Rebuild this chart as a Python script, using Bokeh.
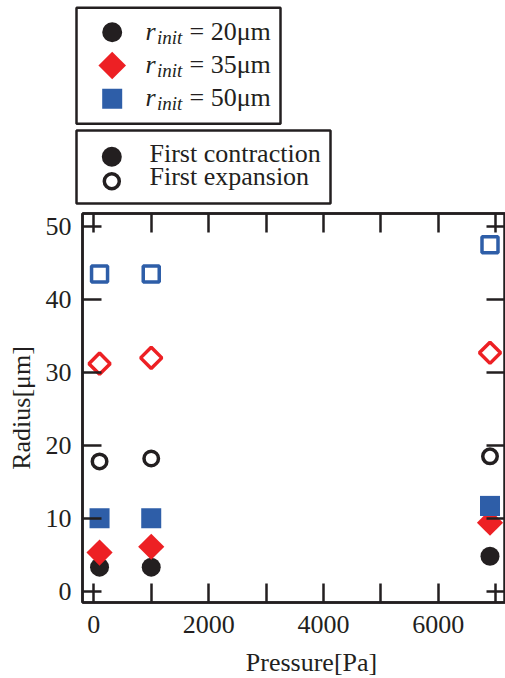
import math
from bokeh.plotting import figure
from bokeh.models import Range1d, FixedTicker, LinearAxis
from bokeh.layouts import column
from bokeh.core.properties import value
from bokeh.embed import file_html
from bokeh.resources import INLINE

# ---------------- data ----------------
pressure = [100, 1000, 6900]
r20_contraction = [3.3, 3.3, 4.8]
r20_expansion = [17.8, 18.2, 18.5]
r35_contraction = [5.3, 6.1, 9.4]
r35_expansion = [31.2, 32.0, 32.7]
r50_contraction = [10.0, 10.0, 11.7]
r50_expansion = [43.5, 43.5, 47.5]

x_major_ticks = [0, 2000, 4000, 6000]
x_minor_ticks = [1000, 3000, 5000, 7000]
y_ticks = [0, 10, 20, 30, 40, 50]

size_values = ["20", "35", "50"]
phase_labels = ["First contraction", "First expansion"]
x_title = "Pressure[Pa]"
y_title = "Radius[μm]"

BLACK = "#231f20"
RED = "#ed2024"
BLUE = "#2e5ea8"
FONT = "Liberation Serif"
FS = "26px"
W = 505
BL = -8.5  # baseline correction for text glyphs

# ---------------- main plot ----------------
p = figure(width=W, height=440, x_range=Range1d(-197, 7170), y_range=Range1d(-1.55, 51.8),
           output_backend="svg", toolbar_location=None,
           min_border_left=82, min_border_right=0, min_border_top=5, min_border_bottom=46,
           x_axis_type=None, y_axis_type=None)
p.frame_align = False
p.background_fill_color = "white"
p.border_fill_color = "white"
p.outline_line_color = BLACK
p.outline_line_width = 2.5


def style_axis(ax, labels=True):
    ax.axis_line_color = BLACK
    ax.axis_line_width = 2.5
    for pre in ("major", "minor"):
        setattr(ax, pre + "_tick_line_color", BLACK)
        setattr(ax, pre + "_tick_line_width", 2.5)
        setattr(ax, pre + "_tick_in", 19)
        setattr(ax, pre + "_tick_out", 0)
    if labels:
        ax.major_label_text_font = FONT
        ax.major_label_text_font_size = FS
        ax.major_label_text_color = BLACK
    else:
        ax.major_label_text_font_size = "1px"
        ax.major_label_text_color = None
        ax.major_label_standoff = 0


x_ticker = FixedTicker(ticks=x_major_ticks, minor_ticks=x_minor_ticks)
y_ticker = FixedTicker(ticks=y_ticks)

xb = LinearAxis(ticker=x_ticker)
style_axis(xb)
xb.major_label_standoff = 13
p.add_layout(xb, "below")

yl = LinearAxis(ticker=y_ticker, axis_label=y_title)
style_axis(yl)
yl.major_label_standoff = 11
yl.axis_label_text_font = FONT
yl.axis_label_text_font_size = FS
yl.axis_label_text_font_style = "normal"
yl.axis_label_text_color = BLACK
yl.axis_label_standoff = 7
p.add_layout(yl, "left")

xt = LinearAxis(ticker=x_ticker)
style_axis(xt, labels=False)
p.add_layout(xt, "above")

yr = LinearAxis(ticker=y_ticker)
style_axis(yr, labels=False)
p.add_layout(yr, "right")

p.xgrid.ticker = x_ticker
p.ygrid.ticker = y_ticker
for g in (p.xgrid, p.ygrid):
    g.grid_line_color = "#444444"
    g.grid_line_width = 1
    g.grid_line_dash = "2 3"
p.xgrid.minor_grid_line_color = "#444444"
p.xgrid.minor_grid_line_width = 1
p.xgrid.minor_grid_line_dash = "2 3"

# contraction (filled)
p.scatter(pressure, r20_contraction, marker="circle", size=19, fill_color=BLACK, line_color=None)
p.scatter(pressure, r35_contraction, marker="square", angle=math.pi / 4, size=18.5, fill_color=RED, line_color=None)
p.scatter(pressure, r50_contraction, marker="square", size=20, fill_color=BLUE, line_color=None)
# expansion (open)
p.scatter(pressure, r20_expansion, marker="circle", size=14.5, fill_color="white", line_color=BLACK, line_width=3.5)
p.scatter(pressure, r35_expansion, marker="square", angle=math.pi / 4, size=15, fill_color="white", line_color=RED, line_width=3.5)
p.scatter(pressure, r50_expansion, marker="square", size=16, fill_color="white", line_color=BLUE, line_width=3.5)


def blank_fig(h):
    f = figure(width=W, height=h, x_range=Range1d(0, W), y_range=Range1d(h, 0),
               output_backend="svg", toolbar_location=None,
               min_border=0, x_axis_type=None, y_axis_type=None)
    f.frame_align = False
    f.outline_line_color = None
    f.xgrid.visible = False
    f.ygrid.visible = False
    f.background_fill_color = "white"
    f.border_fill_color = "white"
    return f


# ---------------- legends ----------------
leg = blank_fig(208)
leg.quad(left=[76, 76], right=[280, 330], top=[7.3, 130], bottom=[123.3, 203],
         fill_color=None, line_color=BLACK, line_width=2.5)

row_y = [31.7, 65.0, 98.3]
base_y = [39.3 + BL, 72.6 + BL, 105.9 + BL]
leg.scatter([111.7], [row_y[0]], marker="circle", size=20, fill_color=BLACK, line_color=None)
leg.scatter([111.7], [row_y[1]], marker="square", angle=math.pi / 4, size=19.5, fill_color=RED, line_color=None)
leg.scatter([111.7], [row_y[2]], marker="square", size=20, fill_color=BLUE, line_color=None)

leg.text(x=[145] * 3, y=base_y, text=["r"] * 3, text_font=value(FONT), text_font_size=FS,
         text_font_style="italic", text_color=BLACK, text_baseline="alphabetic")
leg.text(x=[156.5] * 3, y=[b + 6 for b in base_y], text=["init"] * 3, text_font=value(FONT),
         text_font_size="19px", text_font_style="italic", text_color=BLACK, text_baseline="alphabetic")
leg.text(x=[189] * 3, y=base_y, text=["= " + s + "μm" for s in size_values], text_font=value(FONT),
         text_font_size=FS, text_color=BLACK, text_baseline="alphabetic")

leg.scatter([111.3], [156.3], marker="circle", size=20, fill_color=BLACK, line_color=None)
leg.scatter([111.3], [180.8], marker="circle", size=15, fill_color="white", line_color=BLACK, line_width=3.5)
leg.text(x=[149, 149], y=[161.7 + BL, 184.5 + BL], text=phase_labels, text_font=value(FONT), text_font_size=FS,
         text_color=BLACK, text_baseline="alphabetic")

# ---------------- x-axis title ----------------
foot = blank_fig(30)
foot.text(x=[311], y=[22 + BL], text=[x_title], text_font=value(FONT), text_font_size=FS,
          text_color=BLACK, text_align="center", text_baseline="alphabetic")

layout = column(leg, p, foot, spacing=0)
open("out.html", "w").write(file_html(layout, INLINE))
